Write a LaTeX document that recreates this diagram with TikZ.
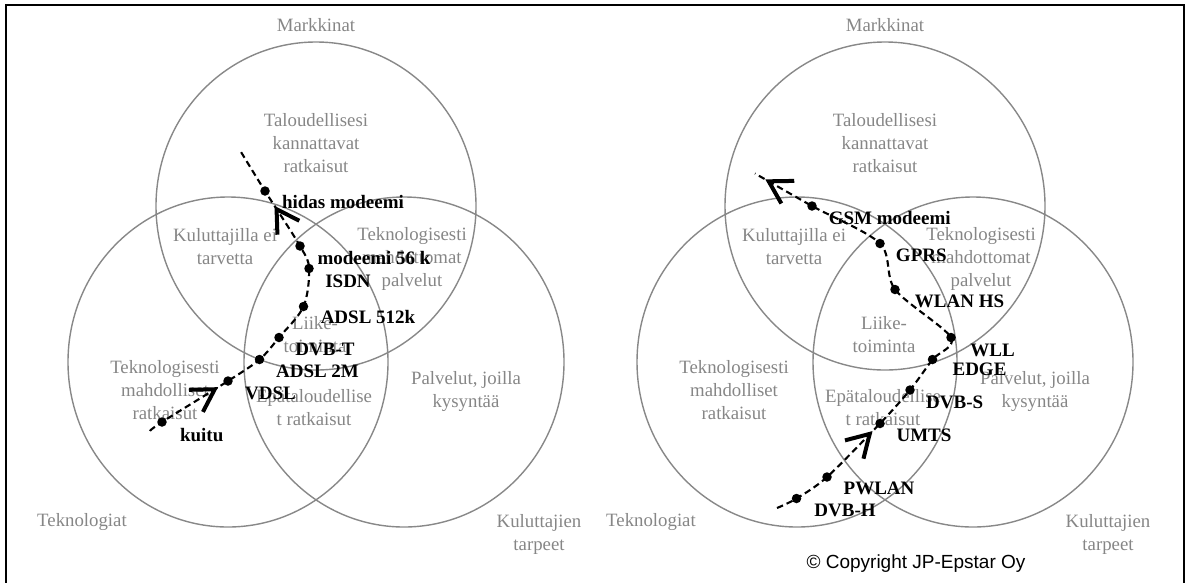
\documentclass[tikz,border=0pt]{standalone}
\usepackage{fontspec}
\setmainfont{Liberation Serif}
\newfontfamily\arialfont{Liberation Sans}
\usetikzlibrary{arrows.meta,decorations.markings}
\definecolor{ringgray}{HTML}{888888}
\definecolor{labelgray}{HTML}{868686}
\tikzset{
  ring/.style={draw=ringgray, line width=1.4pt},
  area/.style={text=labelgray, font=\fontsize{18.8}{23}\selectfont, align=center, inner sep=0pt},
  tech/.style={text=black, font=\fontsize{19}{23}\selectfont\bfseries, inner sep=0pt},
  waypoint/.style={circle, fill=black, inner sep=0pt, minimum size=9.5pt},
  route/.style={draw=black, line width=2.1pt, dash pattern=on 6.5pt off 4pt},
  frameline/.style={draw=black, line width=2.5pt},
  flowbarb/.style={decoration={markings, mark=at position #1 with
      {\arrow{Straight Barb[length=22pt, width=26pt, line width=4pt]}}}, decorate},
  venn/.pic={
    \draw[ring] (316,206) ellipse[x radius=160, y radius=164];
    \draw[ring] (228,362) ellipse[x radius=160, y radius=165];
    \draw[ring] (404,362) ellipse[x radius=160, y radius=165];
    \node[area] (-markets)    at (316,25)    {Markkinat};
    \node[area] (-viable)     at (316,143)   {Taloudellisesi\\kannattavat\\ratkaisut};
    \node[area] (-noneed)     at (225,247)   {Kuluttajilla ei\\tarvetta};
    \node[area] (-impossible) at (412,259)   {Teknologisesti\\mahdottomat\\palvelut};
    \node[area] (-business)   at (315,334.5) {Liike-\\toiminta};
    \node[area] (-possible)   at (165,390)   {Teknologisesti\\mahdolliset\\ratkaisut};
    \node[area] (-uneconomic) at (314,408)   {Epätaloudellise\\t ratkaisut};
    \node[area] (-demand)     at (466,391.5) {Palvelut, joilla\\kysyntää};
    \node[area] (-tech)       at (82,522)    {Teknologiat};
    \node[area] (-needs)      at (539,534)   {Kuluttajien\\tarpeet};
  }
}
\begin{document}
\begin{tikzpicture}[x=1pt,y=-1pt]
\useasboundingbox (0,0) rectangle (1190,582);
\draw[frameline] (6,584) -- (6,5) -- (1184,5) -- (1184,584);

% ---------------- left panel: fixed-line access ----------------
\pic (L) at (0,0) {venn};

\coordinate (Ls) at (150,431);
\node[waypoint] (L1) at (162,422) {};
\node[waypoint] (L2) at (228,381) {};
\node[waypoint] (L3) at (259.5,359.5) {};
\node[waypoint] (L4) at (279,337.5) {};
\node[waypoint] (L5) at (303.5,306.5) {};
\node[waypoint] (L6) at (309,268.5) {};
\node[waypoint] (L7) at (300,246) {};
\node[waypoint] (L8) at (265,191) {};
\coordinate (Le) at (241,152);

\draw[route] plot[smooth, tension=0.55] coordinates
  {(Ls) (L1.center) (L2.center) (L3.center) (L4.center) (L5.center)
   (L6.center) (L7.center) (L8.center) (Le)};
\path[flowbarb=0.85] (L1.center) -- (L2.center);
\path[flowbarb=0.73] (L7.center) -- (L8.center);

\node[tech] (hidas)  at (343,202)   {hidas modeemi};
\node[tech] (m56)    at (374,258)   {modeemi 56 k};
\node[tech] (isdn)   at (348,281)   {ISDN};
\node[tech] (adsl5)  at (368,317)   {ADSL 512k};
\node[tech] (dvbt)   at (325,349)   {DVB-T};
\node[tech] (adsl2)  at (317.5,371) {ADSL 2M};
\node[tech] (vdsl)   at (270.5,393) {VDSL};
\node[tech] (kuitu)  at (201.7,435) {kuitu};

% ---------------- right panel: wireless access ----------------
\pic (R) at (569,0) {venn};

\coordinate (Rs) at (777,508);
\node[waypoint] (R1) at (796.5,498.5) {};
\node[waypoint] (R2) at (827,477) {};
\node[waypoint] (R3) at (880,423.5) {};
\node[waypoint] (R4) at (910,390) {};
\node[waypoint] (R5) at (932.5,359.5) {};
\node[waypoint] (R6) at (951,337.5) {};
\node[waypoint] (R7) at (895,289.5) {};
\node[waypoint] (R8) at (880,243.5) {};
\node[waypoint] (R9) at (812,206) {};
\coordinate (Re) at (755,173.5);

\draw[route] plot[smooth, tension=0.5] coordinates
  {(Rs) (R1.center) (R2.center) (R3.center) (R4.center) (R5.center)
   (R6.center) (R7.center) (R8.center) (R9.center) (Re)};
\path[flowbarb=0.86] (R2.center) -- (R3.center);
\path[flowbarb=0.82] (R9.center) -- (Re);

\node[tech] (gsm)    at (889.7,218) {GSM modeemi};
\node[tech] (gprs)   at (921.3,255) {GPRS};
\node[tech] (wlanhs) at (959.5,301) {WLAN HS};
\node[tech] (wll)    at (992.5,350) {WLL};
\node[tech] (edge)   at (979.5,369) {EDGE};
\node[tech] (dvbs)   at (954.7,402) {DVB-S};
\node[tech] (umts)   at (924,435)   {UMTS};
\node[tech] (pwlan)  at (879,488)   {PWLAN};
\node[tech] (dvbh)   at (845,510)   {DVB-H};

\node[inner sep=0pt, font=\arialfont\fontsize{19}{23}\selectfont] (copy)
  at (916,564) {© Copyright JP-Epstar Oy};
\end{tikzpicture}
\end{document}
